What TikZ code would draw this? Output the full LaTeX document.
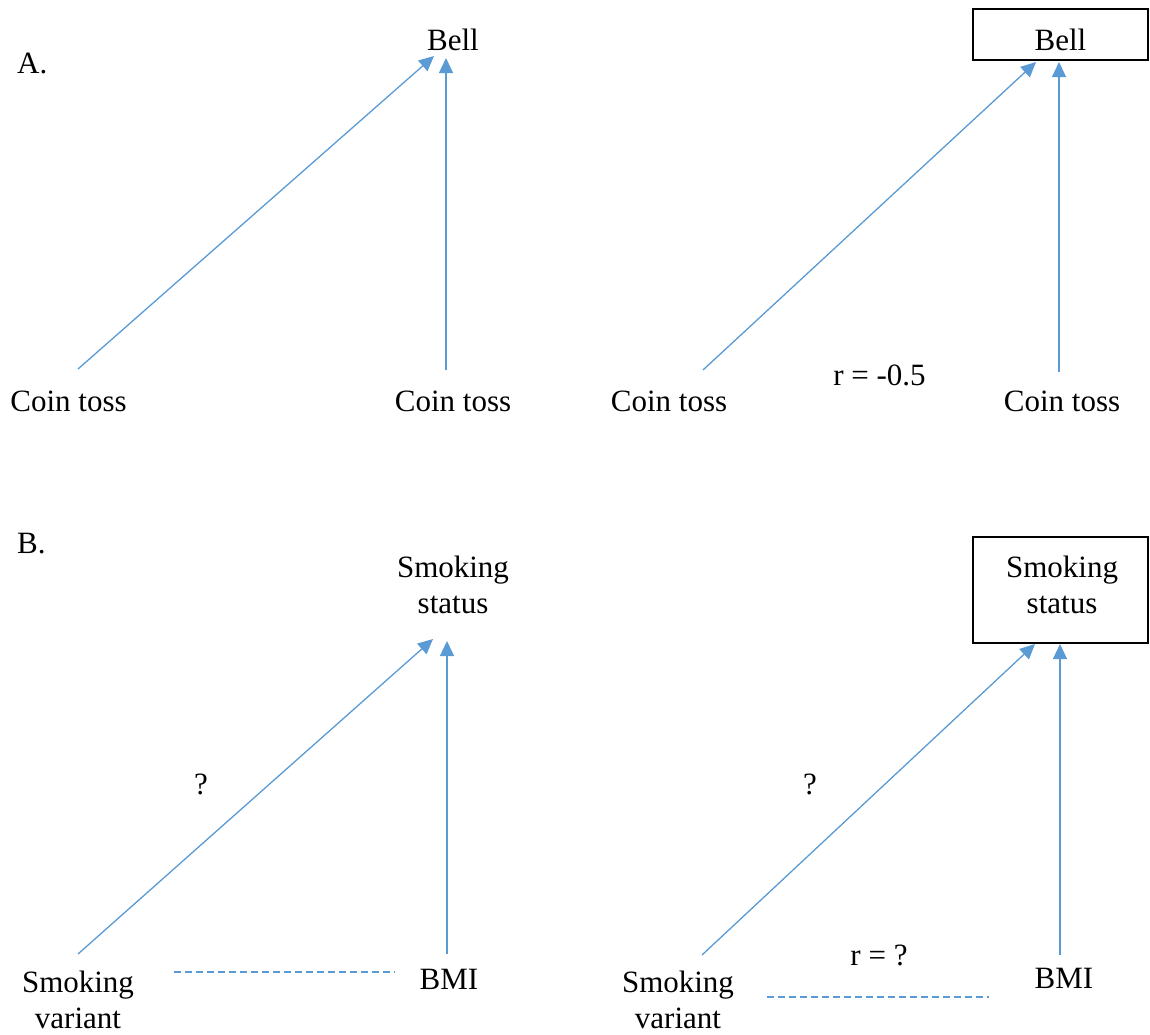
\documentclass[tikz,border=0pt]{standalone}
\usepackage{fontspec}
\setmainfont{Liberation Serif}
\usetikzlibrary{arrows.meta}
\definecolor{linkblue}{HTML}{5B9BD5}
\begin{document}
\begin{tikzpicture}[x=1pt,y=-1pt,
  lbl/.style={inner sep=0pt,font=\fontsize{31}{36}\selectfont},
  ml/.style={lbl,align=center},
  arr/.style={draw=linkblue,line width=1.3pt,-{Triangle[length=15pt,width=14pt]},fill=linkblue},
  dsh/.style={draw=linkblue,line width=1.1pt,dash pattern=on 7pt off 4pt},
  boxst/.style={draw=black,line width=1.8pt,inner sep=0pt,fill=none}]
\useasboundingbox (0,0) rectangle (1150,1034);
% ---------- Panel A ----------
\node[lbl,anchor=base west] (labA) at (17,73) {A.};
\node[lbl,anchor=base] (bell1) at (453,50) {Bell};
\node[lbl,anchor=base] (coin1) at (68.5,411) {Coin toss};
\node[lbl,anchor=base] (coin2) at (453,411) {Coin toss};
\coordinate (a1t) at (78,369);
\coordinate (a1h) at (434,56);
\coordinate (a2t) at (446,370);
\coordinate (a2h) at (446,58);
\draw[arr] (a1t) -- (a1h);
\draw[arr] (a2t) -- (a2h);

\node[boxst,minimum width=175pt,minimum height=51pt] (bellbox) at (1060.5,34.5) {};
\node[lbl,anchor=base] (bell2) at (1060.5,50) {Bell};
\node[lbl,anchor=base] (coin3) at (669,411) {Coin toss};
\node[lbl,anchor=base] (coin4) at (1062,411) {Coin toss};
\node[lbl,anchor=base] (rA) at (879.5,385) {r = -0.5};
\coordinate (a3t) at (703,370);
\coordinate (a3h) at (1036,62);
\coordinate (a4t) at (1059,372);
\coordinate (a4h) at (1059,62);
\draw[arr] (a3t) -- (a3h);
\draw[arr] (a4t) -- (a4h);

% ---------- Panel B ----------
\node[lbl,anchor=base west] (labB) at (17,553) {B.};
\node[ml] (ss1) at (453,584.5) {Smoking\\status};
\node[ml] (sv1) at (78,1000) {Smoking\\variant};
\node[lbl,anchor=base] (bmi1) at (449,989) {BMI};
\node[lbl,anchor=base] (q1) at (201,794) {?};
\coordinate (b1t) at (78,954);
\coordinate (b1h) at (433,639);
\coordinate (b2t) at (447,954);
\coordinate (b2h) at (447,641);
\draw[arr] (b1t) -- (b1h);
\draw[arr] (b2t) -- (b2h);
\coordinate (d1a) at (174,972);
\coordinate (d1b) at (395,972);
\draw[dsh] (d1a) -- (d1b);

\node[boxst,minimum width=175pt,minimum height=106pt] (ssbox) at (1060.5,590) {};
\node[ml] (ss2) at (1062,584.5) {Smoking\\status};
\node[ml] (sv2) at (678,1000) {Smoking\\variant};
\node[lbl,anchor=base] (bmi2) at (1064,988) {BMI};
\node[lbl,anchor=base] (q2) at (810,794) {?};
\node[lbl,anchor=base] (rB) at (879,965) {r = ?};
\coordinate (b3t) at (702,955);
\coordinate (b3h) at (1035,644);
\coordinate (b4t) at (1060,955);
\coordinate (b4h) at (1060,644);
\draw[arr] (b3t) -- (b3h);
\draw[arr] (b4t) -- (b4h);
\coordinate (d2a) at (767,997);
\coordinate (d2b) at (989,997);
\draw[dsh] (d2a) -- (d2b);
\end{tikzpicture}
\end{document}
